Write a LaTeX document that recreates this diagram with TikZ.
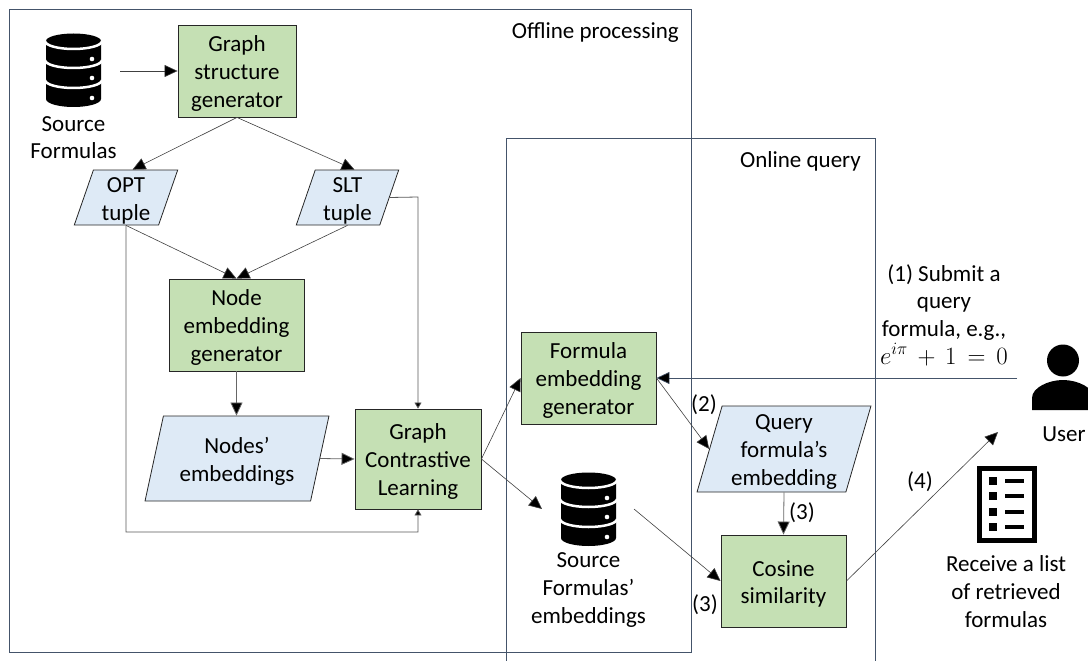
\documentclass[tikz,border=0pt]{standalone}
\usepackage{fontspec}
\setmainfont{Carlito}
\usetikzlibrary{arrows.meta, calc, positioning, shapes.geometric}

\definecolor{boxgreen}{HTML}{C5E0B4}
\definecolor{boxblue}{HTML}{DEEAF6}
\definecolor{framecol}{HTML}{44546A}

\begin{document}
\begin{tikzpicture}[
  x=1pt, y=-1pt,
  every node/.style={font=\fontsize{23}{27.6}\selectfont, align=center, text=black,
    execute at begin node={\rule{0pt}{19.5pt}}},
  process/.style={draw=black!85, fill=boxgreen, line width=0.9pt, inner sep=0pt},
  data/.style={trapezium, trapezium left angle=75, trapezium right angle=105, draw=black!85, fill=boxblue,
    line width=0.8pt, inner sep=0pt, trapezium stretches=true},
  drop/.style={execute at begin node={\rule{0pt}{#1}}},
  threelines/.style={drop=76pt},
  twolines/.style={drop=49.5pt},
  frame/.style={draw=framecol, line width=0.9pt},
  flow/.style={draw=black!75, line width=0.6pt, -{Triangle[length=13pt, width=12pt, fill=black]}},
  flowsmall/.style={draw=black!65, line width=0.8pt, -{Triangle[length=6pt, width=7pt, fill=black]}},
  flowgrey/.style={flow, draw=black!60, line width=0.8pt},
  flowlong/.style={draw=framecol, line width=0.7pt, -{Triangle[length=13pt, width=12pt, fill=black]}},
  tag/.style={inner sep=0pt}
]
\useasboundingbox (0,0) rectangle (1088,661);

% Frames
\path[frame] (9,9) rectangle (691,652);
\path[frame] (506,661) -- (506,138) -- (875,138) -- (875,661);
\node[tag, anchor=east] (offlinelabel) at (679,31) {Offline processing};
\node[tag, anchor=east] (onlinelabel) at (861,160) {Online query};

% Process blocks
\node[process, threelines, minimum width=118pt, minimum height=92pt] (structgen) at (237,71) {Graph\\structure\\generator};
\node[process, threelines, minimum width=135pt, minimum height=92pt] (nodegen) at (236.5,325) {Node\\embedding\\generator};
\node[process, threelines, minimum width=126pt, minimum height=100pt] (gcl) at (418,459) {Graph\\Contrastive\\Learning};
\node[process, threelines, minimum width=135pt, minimum height=92pt] (formulagen) at (588.5,378) {Formula\\embedding\\generator};
\node[process, twolines, minimum width=125pt, minimum height=92pt] (cosine) at (783.5,581) {Cosine\\similarity};

% Data blocks
\node[data, twolines, minimum width=104pt, minimum height=55pt] (opt) at (126,197.5) {OPT\\tuple};
\node[data, twolines, minimum width=103pt, minimum height=55pt] (slt) at (347.5,197.5) {SLT\\tuple};
\node[data, twolines, minimum width=184pt, minimum height=85pt] (nodesemb) at (237,458.5) {Nodes’\\embeddings};
\node[data, threelines, minimum width=174pt, minimum height=86pt] (queryemb) at (784,449) {Query\\formula’s\\embedding};

% Source databases
\foreach \cx/\cy in {73.5/70.5, 588.5/509.5} {
  \begin{scope}[shift={(\cx,\cy)}]
    \fill[black] (-27.5,-29.5) arc[start angle=180, end angle=360, x radius=27.5, y radius=7.5]
      -- (27.5,28.5) arc[start angle=0, end angle=180, x radius=27.5, y radius=8] -- cycle;
    \foreach \bandy in {-29.5,-10.5,9.5}
      \draw[white, line width=2.5pt] (-28.5,\bandy) arc[start angle=180, end angle=0, x radius=28.5, y radius=8];
    \foreach \doty in {-11.5,7.5,27.5} \fill[white] (18.5,\doty) circle (2.3);
  \end{scope}
}
\node[inner sep=0pt] (sourcelabel) at (73.5,137.5) {Source\\Formulas};
\node[inner sep=0pt] (emblabel) at (588.5,590) {Source\\Formulas’\\embeddings};

% User
\fill[black] (1063,360.5) circle (16);
\fill[black] (1032,410) -- (1032,398) .. controls (1032,388) and (1048,380) .. (1063,380)
  .. controls (1078,380) and (1094,388) .. (1094,398) -- (1094,410) -- cycle;
\node[inner sep=0pt] (userlabel) at (1064,432) {User};

% List of results
\draw[black, line width=5pt] (979.5,468.5) rectangle (1034.5,540.5);
\foreach \rowy in {481,496,512,527} {
  \fill[black] (989,\rowy-4) rectangle (997,\rowy+4);
  \fill[black] (1005,\rowy-1.7) rectangle (1024,\rowy+1.7);
}
\node[inner sep=0pt] (listlabel) at (1006,591.5) {Receive a list\\of retrieved\\formulas};

% Free ends
\coordinate (sourceout) at (120,71);
\coordinate (embin) at (542,509);
\coordinate (embout) at (634,509);
\coordinate (userout) at (1017,378);
\coordinate (userin) at (998,432);

% Connectors
\draw[flow] (sourceout) -- (structgen.west);
\draw[flow] (structgen.south) -- ([xshift=6.5pt]opt.north);
\draw[flow] (structgen.south) -- ([xshift=7pt]slt.north);
\draw[flow] (opt.south) -- (nodegen.north);
\draw[flow] (slt.south) -- (nodegen.north);
\draw[flowsmall] (opt.south) -- (126,532) -- (418,532) -- (gcl.south);
\draw[flowsmall] (slt.east) -- (418,197) -- (gcl.north);
\draw[flowgrey] (nodegen.south) -- (nodesemb.north -| nodegen.south);
\draw[flowgrey] (nodesemb.east) -- (gcl.west);
\draw[flow] (gcl.east) -- (formulagen.west);
\draw[flow] (gcl.east) -- (embin);
\draw[flowlong] (userout) -- (formulagen.east);
\draw[flow] (formulagen.east) -- (queryemb.west);
\draw[flowgrey] (queryemb.south) -- (cosine.north);
\draw[flow] (embout) -- (cosine.west);
\draw[flow] (cosine.east) -- (userin);

% Step labels
\node[tag] (steptwo) at (704,403) {(2)};
\node[tag] (stepthreea) at (802,511) {(3)};
\node[tag] (stepthreeb) at (705,603) {(3)};
\node[tag] (stepfour) at (920,480) {(4)};
\node[inner sep=0pt] (steponelabel) at (944,315) {(1) Submit a\\query\\formula, e.g.,\\$e^{i\pi}\,+\,1\,=\,0$};

\end{tikzpicture}
\end{document}
